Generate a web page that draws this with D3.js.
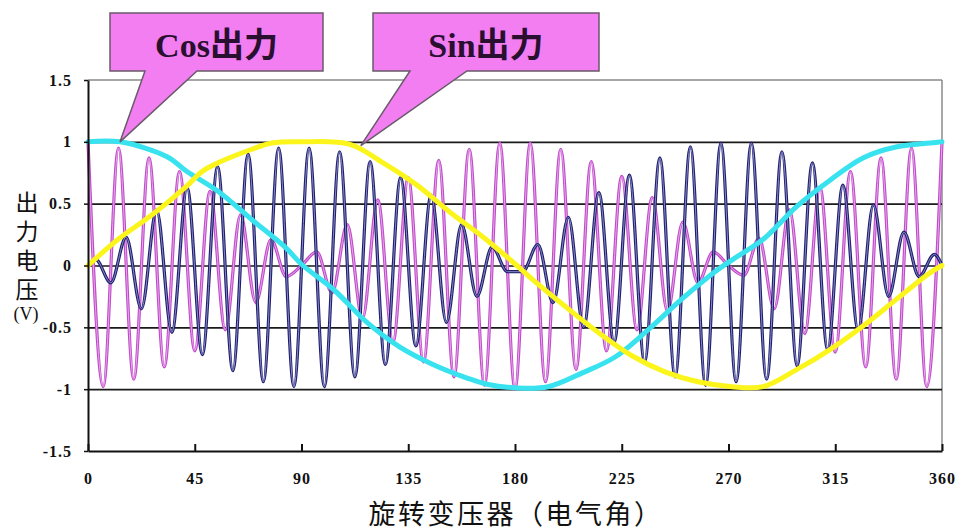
<!DOCTYPE html>
<html lang="zh">
<head>
    <meta charset="UTF-8">
    <script src="https://cdn.jsdelivr.net/npm/d3@7"></script>
    <title>旋转变压器 输出</title>
    <style>
        body {
            margin: 0;
            background: #fff;
        }
        .tick text {
            font-family: "Liberation Serif", serif;
            font-weight: bold;
            font-size: 16px;
            letter-spacing: 1px;
            fill: #111;
        }
    </style>
</head>
<body>
    <svg id="chart" width="963" height="532"></svg>

    <script>
        // axis ticks
        const xTicks = [0, 45, 90, 135, 180, 225, 270, 315, 360];
        const yTicks = [-1.5, -1, -0.5, 0, 0.5, 1, 1.5];
        const gridValues = [-1, -0.5, 0, 0.5, 1];

        // carrier: 28 cycles over 360 deg, extremes
        const carrierCycles = 28;
        // Cos output (magenta), one extreme per half cycle starting at 0 deg
        const cosCarrier = [1.0, -0.98, 0.95, -0.92, 0.87, -0.82, 0.76, -0.69, 0.6, -0.52, 0.41, -0.3, 0.21, -0.09,
            0.0, 0.11, -0.22, 0.33, -0.43, 0.53, -0.62, 0.71, -0.78, 0.85, -0.9, 0.94, -0.97, 0.99, -1.0,
            0.99, -0.94, 0.94, -0.84, 0.84, -0.69, 0.72, -0.52, 0.55, -0.37, 0.35, -0.14, 0.11,
            0.0, -0.08, 0.22, -0.35, 0.45, -0.55, 0.63, -0.7, 0.76, -0.82, 0.87, -0.92, 0.95, -0.98, 1.0];
        // Sin output (navy), extremes sit a quarter cycle later
        const sinCarrier = [0.05, -0.14, 0.23, -0.35, 0.45, -0.54, 0.63, -0.72, 0.8, -0.85, 0.9, -0.94, 0.95, -0.98,
            0.95, -0.98, 0.92, -0.9, 0.84, -0.8, 0.71, -0.65, 0.57, -0.46, 0.33, -0.25, 0.15, -0.05,
            -0.05, 0.17, -0.3, 0.39, -0.5, 0.59, -0.62, 0.73, -0.78, 0.87, -0.9, 0.96, -0.97, 0.99,
            -0.94, 0.99, -0.92, 0.92, -0.81, 0.83, -0.68, 0.65, -0.52, 0.49, -0.25, 0.27, -0.09, 0.09];

        // envelopes [angle, volts]
        const cosEnvelope = [[0, 1.0], [13.5, 1.0], [33.3, 0.88], [41.7, 0.76], [54.8, 0.6], [69.1, 0.37], [83, 0.15],
            [90.6, 0.0], [103.3, -0.19], [117.6, -0.46], [131.5, -0.66], [145.4, -0.8], [159.8, -0.91], [168.2, -0.96],
            [180.8, -0.99], [193.9, -0.98], [208.2, -0.87], [222.2, -0.74], [236.1, -0.52], [250.4, -0.27],
            [264.3, -0.05], [271.9, 0.05], [284.5, 0.21], [298.9, 0.48], [312.8, 0.69], [326.7, 0.87],
            [341.0, 0.96], [354.9, 0.99], [360, 1.0]];
        const sinEnvelope = [[0, 0.0], [12.6, 0.21], [27.0, 0.41], [40.9, 0.63], [48.1, 0.76], [54.8, 0.83],
            [69.1, 0.94], [77.5, 0.99], [89.4, 1.0], [110.4, 0.98], [124.4, 0.83], [138.7, 0.65], [152.6, 0.43],
            [166.5, 0.23], [180.8, 0.0], [187.2, -0.11], [201.1, -0.33], [215.0, -0.54], [229.3, -0.73],
            [243.2, -0.86], [257.1, -0.94], [271.5, -0.98], [284.5, -0.98], [298.9, -0.84], [312.8, -0.68],
            [326.7, -0.49], [341.0, -0.27], [354.9, -0.06], [360, 0.0]];

        const callouts = [
            { label: "Cos出力", box: [110, 13, 323, 71], base: [145, 197], tip: [13.5, 1.0] },
            { label: "Sin出力", box: [373, 13, 599, 71], base: [410, 467], tip: [115, 0.97] }
        ];

        const svg = d3.select("#chart");
        const margin = { left: 88, right: 21, top: 80, bottom: 81 };
        const W = 963, H = 532;

        const x = d3.scaleLinear().domain([0, 360]).range([margin.left, W - margin.right]);
        const y = d3.scaleLinear().domain([-1.5, 1.5]).range([H - margin.bottom, margin.top]);

        svg.append("rect").attr("width", W).attr("height", H).attr("fill", "#fff");

        // frame: top and right in grey
        svg.append("line")
            .attr("x1", x(0)).attr("x2", x(360)).attr("y1", y(1.5)).attr("y2", y(1.5))
            .attr("stroke", "#8a8a8a").attr("stroke-width", 1.5);
        svg.append("line")
            .attr("x1", x(360)).attr("x2", x(360)).attr("y1", y(1.5)).attr("y2", y(-1.5))
            .attr("stroke", "#8a8a8a").attr("stroke-width", 1.5);

        // horizontal grid
        svg.append("g")
            .attr("transform", `translate(${margin.left},0)`)
            .call(d3.axisLeft(y).tickValues(gridValues).tickSize(-(x(360) - x(0))).tickFormat(""))
            .call(g => g.select(".domain").remove())
            .call(g => g.selectAll("line").attr("stroke", "#1a1a1a").attr("stroke-width", 1.6));

        const half = 360 / (2 * carrierCycles);
        const cosPts = cosCarrier.map((v, i) => [i * half, v]);
        const sinPts = [[0, 0]].concat(sinCarrier.map((v, j) => [(j + 0.5) * half, v]), [[360, 0]]);

        const line = d3.line()
            .x(d => x(d[0]))
            .y(d => y(d[1]))
            .curve(d3.curveMonotoneX);

        const drawCarrier = (pts, outer, inner) => {
            svg.append("path").attr("d", line(pts)).attr("fill", "none")
                .attr("stroke", outer).attr("stroke-width", 3.2).attr("stroke-linejoin", "round");
            svg.append("path").attr("d", line(pts)).attr("fill", "none")
                .attr("stroke", inner).attr("stroke-width", 1);
        };
        drawCarrier(cosPts, "#bf4cc8", "#e9a6ee");
        drawCarrier(sinPts, "#1f1f70", "#8a8ac4");

        const envLine = d3.line()
            .x(d => x(d[0]))
            .y(d => y(d[1]))
            .curve(d3.curveCatmullRom);

        svg.append("path").attr("d", envLine(cosEnvelope)).attr("fill", "none")
            .attr("stroke", "#38e2ee").attr("stroke-width", 5).attr("stroke-linecap", "round");
        svg.append("path").attr("d", envLine(sinEnvelope)).attr("fill", "none")
            .attr("stroke", "#fbf51c").attr("stroke-width", 5).attr("stroke-linecap", "round");

        // axes
        const xAxis = svg.append("g")
            .attr("transform", `translate(0,${y(-1.5)})`)
            .call(d3.axisBottom(x).tickValues(xTicks).tickSize(-7).tickSizeOuter(0).tickPadding(22));
        xAxis.select(".domain").attr("stroke", "#111").attr("stroke-width", 2);
        xAxis.selectAll(".tick line").attr("stroke", "#111").attr("stroke-width", 2);

        const yAxis = svg.append("g")
            .attr("transform", `translate(${margin.left},0)`)
            .call(d3.axisLeft(y).tickValues(yTicks).tickSize(4).tickSizeOuter(0).tickPadding(12)
                .tickFormat(d => String(d)));
        yAxis.select(".domain").attr("stroke", "#111").attr("stroke-width", 2);
        yAxis.selectAll(".tick line").attr("stroke", "#111").attr("stroke-width", 1.5);

        // callouts
        callouts.forEach(c => {
            const [x0, y0, x1, y1] = c.box;
            const tx = x(c.tip[0]), ty = y(c.tip[1]);
            const p = d3.path();
            p.moveTo(x0, y0);
            p.lineTo(x1, y0);
            p.lineTo(x1, y1);
            p.lineTo(c.base[1], y1);
            p.lineTo(tx, ty);
            p.lineTo(c.base[0], y1);
            p.lineTo(x0, y1);
            p.closePath();
            svg.append("path").attr("d", p.toString())
                .attr("fill", "#f27ef2").attr("stroke", "#6a5a6a").attr("stroke-width", 1.5);
            svg.append("text")
                .attr("x", (x0 + x1) / 2).attr("y", y0 + 44)
                .attr("text-anchor", "middle")
                .attr("font-family", "'Liberation Serif', 'Noto Sans CJK SC', serif")
                .attr("font-weight", "bold")
                .attr("font-size", 34)
                .attr("fill", "#2a1030")
                .text(c.label);
        });

        // y title, stacked top to bottom
        svg.append("text")
            .attr("x", 27).attr("y", 191)
            .attr("writing-mode", "vertical-rl")
            .attr("font-family", "'Noto Sans CJK SC', sans-serif")
            .attr("font-size", 23)
            .attr("letter-spacing", 6)
            .attr("fill", "#111")
            .text("出力电压");
        svg.append("text")
            .attr("x", 26).attr("y", 320)
            .attr("text-anchor", "middle")
            .attr("font-family", "'Liberation Serif', serif")
            .attr("font-size", 18)
            .attr("fill", "#111")
            .text("(V)");

        // x title
        svg.append("text")
            .attr("x", 516).attr("y", 524)
            .attr("text-anchor", "middle")
            .attr("font-family", "'Noto Sans CJK SC', sans-serif")
            .attr("font-size", 27)
            .attr("letter-spacing", 2.5)
            .attr("fill", "#111")
            .text("旋转变压器（电气角）");
    </script>
</body>
</html>
